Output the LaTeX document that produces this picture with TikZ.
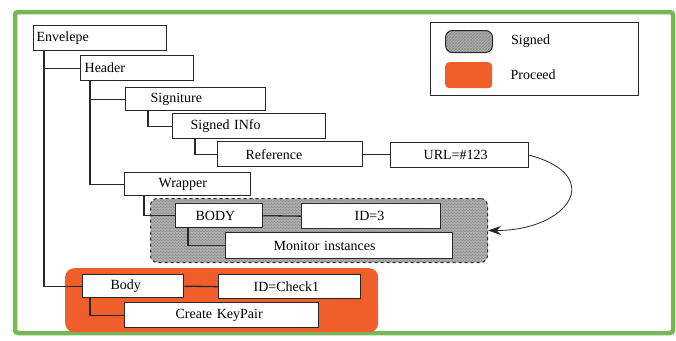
\documentclass[tikz,border=0pt]{standalone}
\usepackage{fontspec}
\setmainfont{Liberation Serif}
\usepackage{tikz}
\usetikzlibrary{arrows.meta, positioning, patterns}
\definecolor{framegreen}{RGB}{118,184,88}
\definecolor{proceedorange}{RGB}{240,94,44}
\definecolor{boxline}{RGB}{40,40,40}
\tikzset{
  elem/.style n args={2}{draw=boxline, line width=1.3pt, fill=white,
                         anchor=north west, text width=#1, align=left,
                         inner xsep=#2, inner ysep=0pt},
  signed/.style={draw=boxline, dashed, line width=1pt, rounded corners=7pt,
                 preaction={fill=gray!60}, pattern=crosshatch,
                 pattern color=black!45, anchor=north west, inner sep=0pt},
  proceed/.style={fill=proceedorange, rounded corners=9pt,
                  anchor=north west, inner sep=0pt},
  link/.style={line width=1.3pt, boxline},
  curvearr/.style={-{Stealth[length=13pt, width=9pt]}, line width=0.8pt, boxline}
}

\begin{document}
\begin{tikzpicture}[x=1pt, y=-1pt, font=\fontsize{14}{16}\selectfont]
  \useasboundingbox (0,0) rectangle (676,340);

  % outer frame
  \draw[framegreen, line width=4.5pt, rounded corners=3pt] (15,12) rectangle (673,333);

  % regions
  \node[signed, minimum width=337pt, minimum height=64pt] (signreg) at (150,198) {};
  \node[proceed, minimum width=313pt, minimum height=64pt] (procreg) at (65,268) {};

  % legend
  \node[draw=boxline, line width=1.3pt, anchor=north west,
        minimum width=208pt, minimum height=73pt] (legend) at (430,22) {};
  \node[signed, solid, minimum width=47pt, minimum height=22pt] (sigkey) at (445,30) {};
  \node[proceed, rounded corners=4pt, minimum width=47pt, minimum height=26pt] (prokey) at (445,62) {};
  \node[inner sep=0pt, right=18pt of sigkey] (siglabel) {Signed};
  \node[inner sep=0pt, right=18pt of prokey] (prolabel) {Proceed};

  % elements
  \node[elem={127pt}{3pt}, minimum height=25pt] (envelope) at (33,25) {Envelepe};
  \node[elem={105pt}{4pt}, minimum height=25pt] (header) at (80,55) {Header};
  \node[elem={90pt}{25pt}, minimum height=23pt] (signiture) at (125,87) {Signiture};
  \node[elem={117pt}{18pt}, minimum height=25pt] (signinfo) at (172,113) {Signed INfo};
  \node[elem={89pt}{28pt}, minimum height=25pt] (reference) at (217,141) {Reference};
  \node[elem={72pt}{33pt}, minimum height=25pt] (url) at (390,142) {URL=\#123};
  \node[elem={58pt}{34pt}, minimum height=23pt] (wrapper) at (124,172) {Wrapper};
  \node[elem={47pt}{20pt}, minimum height=24pt] (bodyup) at (175,203) {BODY};
  \node[elem={33pt}{53pt}, minimum height=25pt] (idthree) at (301,203) {ID=3};
  \node[elem={131pt}{48pt}, minimum height=26pt] (monitor) at (225,232) {Monitor instances};
  \node[elem={45pt}{28pt}, minimum height=23pt] (bodylow) at (82,274) {Body};
  \node[elem={72pt}{35pt}, minimum height=24pt] (idcheck) at (218,274) {ID=Check1};
  \node[elem={92pt}{51pt}, minimum height=25pt] (keypair) at (124,302) {Create KeyPair};

  % tree links
  \coordinate (envtrunk) at ([xshift=11pt]envelope.south west);
  \coordinate (headtrunk) at ([xshift=10pt]header.south west);
  \coordinate (sigtrunk) at ([xshift=23pt]signiture.south west);
  \coordinate (infotrunk) at ([xshift=23pt]signinfo.south west);
  \coordinate (wraptrunk) at ([xshift=20pt]wrapper.south west);
  \coordinate (bodytrunk) at ([xshift=13pt]bodyup.south west);
  \coordinate (lowtrunk) at ([xshift=8pt]bodylow.south west);

  \draw[link] (envtrunk) |- (bodylow.west);
  \draw[link] (envtrunk |- header.west) -- (header.west);
  \draw[link] (headtrunk) |- (wrapper.west);
  \draw[link] (headtrunk |- signiture.west) -- (signiture.west);
  \draw[link] (sigtrunk) |- (signinfo.west);
  \draw[link] (infotrunk) |- (reference.west);
  \draw[link] (wraptrunk) |- (bodyup.west);
  \draw[link] (bodytrunk) |- (monitor.west);
  \draw[link] (lowtrunk) |- (keypair.west);
  \draw[link] (reference.east) -- (reference.east -| url.west);
  \draw[link] (bodyup.east) -- (idthree.west);
  \draw[link] (bodylow.east) -- (idcheck.west);

  % reference pointer
  \draw[curvearr] (url.east) to[out=-15, in=0, distance=80pt] (signreg.east);

\end{tikzpicture}
\end{document}
